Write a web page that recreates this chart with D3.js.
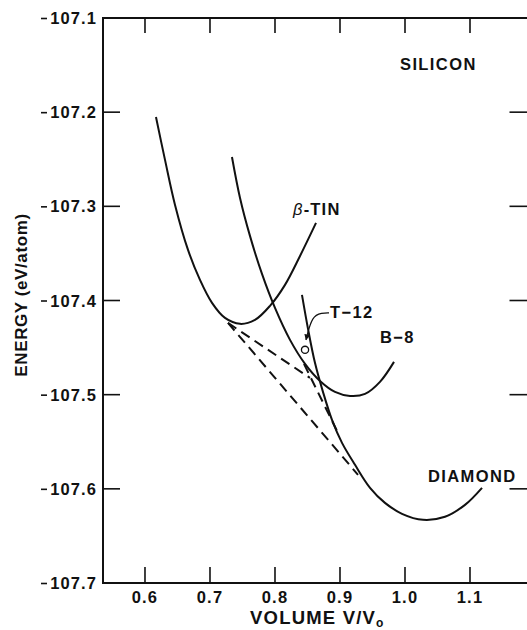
<!DOCTYPE html>
<html>
<head>
<meta charset="utf-8">
<script src="https://cdn.jsdelivr.net/npm/d3@7/dist/d3.min.js"></script>
<style>
  html, body { margin: 0; padding: 0; background: #fff; }
  svg { display: block; }
  text { font-family: "Liberation Sans", Arial, Helvetica, sans-serif; font-weight: bold; fill: #111; }
</style>
</head>
<body>
<svg id="chart" width="527" height="630"></svg>
<script>
// ---- Data ----
const xTickValues = [0.6, 0.7, 0.8, 0.9, 1.0, 1.1];
const xTickLabels = ["0.6", "0.7", "0.8", "0.9", "1.0", "1.1"];
const yTickValues = [-107.1, -107.2, -107.3, -107.4, -107.5, -107.6, -107.7];
const yTickLabels = ["107.1", "107.2", "107.3", "107.4", "107.5", "107.6", "107.7"];

// beta-tin
const tinV = [0.6169, 0.6308, 0.6462, 0.6662, 0.6846, 0.7031, 0.7231, 0.7462, 0.7692, 0.7923, 0.8154, 0.8385, 0.8631];
const tinE = [-107.2051, -107.2507, -107.2985, -107.3463, -107.3781, -107.4025, -107.4185, -107.4248, -107.4206, -107.4057, -107.3834, -107.3527, -107.3176];

// B-8
const b8V = [0.7338, 0.7462, 0.7615, 0.78, 0.80, 0.8231, 0.8462, 0.8692, 0.8923, 0.9154, 0.9385, 0.9615, 0.9831];
const b8E = [-107.2476, -107.2911, -107.3314, -107.3718, -107.4079, -107.4418, -107.4673, -107.4854, -107.4970, -107.5013, -107.4992, -107.4864, -107.4652];

// diamond
const diaV = [0.8415, 0.8508, 0.8615, 0.8738, 0.8877, 0.9031, 0.9231, 0.9462, 0.9692, 0.9954, 1.0277, 1.0615, 1.0923, 1.1185];
const diaE = [-107.3941, -107.4301, -107.4662, -107.4970, -107.5268, -107.5512, -107.5745, -107.5989, -107.6149, -107.6265, -107.6329, -107.6297, -107.6170, -107.5989];

// common tangent constructions (dashed)
const tangentTinDiamondV = [0.7277, 0.9277];
const tangentTinDiamondE = [-107.4238, -107.5851];
const tangentTinB8V = [0.7277, 0.8538];
const tangentTinB8E = [-107.4238, -107.4822];
const tangentB8DiamondV = [0.8446, 0.8969];
const tangentB8DiamondE = [-107.4673, -107.5406];

// T-12 point
const t12V = [0.8462];
const t12E = [-107.4524];
const t12LeaderV = [0.8831, 0.8723, 0.8569, 0.8477];
const t12LeaderE = [-107.4132, -107.4132, -107.4163, -107.4418];

// labels
const labelText = ["SILICON", "T\u221212", "B\u22128", "DIAMOND"];
const labelV = [0.9923, 0.8846, 0.9615, 1.0354];
const labelE = [-107.1552, -107.4185, -107.445, -107.5926];
const tinLabelV = 0.8277, tinLabelE = -107.3091;

// ---- Scales ----
const svg = d3.select("#chart");
const x = d3.scaleLinear().domain([0.5354, 1.19]).range([103, 528.5]);
const y = d3.scaleLinear().domain([-107.7, -107.1]).range([583, 18]);

const zip = (a, b) => a.map((v, i) => [v, b[i]]);
const line = d3.line().x(d => x(d[0])).y(d => y(d[1])).curve(d3.curveCatmullRom.alpha(0.5));
const straight = d3.line().x(d => x(d[0])).y(d => y(d[1]));

// ---- Frame ----
const [x0, x1] = x.range();
const [yb, yt] = y.range();
svg.append("rect").attr("x", x0).attr("y", yt).attr("width", x1 - x0).attr("height", yb - yt)
  .attr("fill", "none").attr("stroke", "#111").attr("stroke-width", 2);

// ticks
const inner = [-107.2, -107.3, -107.4, -107.5, -107.6];
svg.append("g").selectAll("line").data(inner).join("line")
  .attr("x1", x0).attr("x2", x0 + 17).attr("y1", d => y(d)).attr("y2", d => y(d))
  .attr("stroke", "#111").attr("stroke-width", 1.6);
svg.append("g").selectAll("line").data(inner).join("line")
  .attr("x1", x1 - 19).attr("x2", x1).attr("y1", d => y(d)).attr("y2", d => y(d))
  .attr("stroke", "#111").attr("stroke-width", 1.6);
svg.append("g").selectAll("line").data(xTickValues).join("line")
  .attr("x1", d => x(d)).attr("x2", d => x(d)).attr("y1", yt).attr("y2", yt + 15)
  .attr("stroke", "#111").attr("stroke-width", 1.6);
svg.append("g").selectAll("line").data(xTickValues).join("line")
  .attr("x1", d => x(d)).attr("x2", d => x(d)).attr("y1", yb).attr("y2", yb - 16)
  .attr("stroke", "#111").attr("stroke-width", 1.6);

// tick labels
svg.append("g").selectAll("text").data(xTickValues).join("text")
  .attr("x", d => x(d)).attr("y", yb + 20).attr("text-anchor", "middle")
  .attr("font-size", 16.5).attr("letter-spacing", 1.2)
  .text((d, i) => xTickLabels[i]);
const yl = svg.append("g").selectAll("g").data(yTickValues).join("g");
yl.append("text").attr("x", 97).attr("y", d => y(d) + 6).attr("text-anchor", "end")
  .attr("font-size", 16.5).attr("letter-spacing", 1.1)
  .text((d, i) => yTickLabels[i]);
yl.append("line").attr("x1", 41).attr("x2", 47).attr("y1", d => y(d) + 0.5).attr("y2", d => y(d) + 0.5)
  .attr("stroke", "#111").attr("stroke-width", 1.6);

// axis titles
const xt = svg.append("text").attr("x", 250).attr("y", 624).attr("font-size", 18.5).attr("letter-spacing", 1.2);
xt.append("tspan").text("VOLUME V/V");
xt.append("tspan").attr("dy", 3).attr("font-size", 12).text("o");
svg.append("text").attr("transform", "translate(27,295) rotate(-90)").attr("text-anchor", "middle")
  .attr("font-size", 17).attr("letter-spacing", 0.6).text("ENERGY (eV/atom)");

// ---- Curves ----
const curves = [zip(tinV, tinE), zip(b8V, b8E), zip(diaV, diaE)];
svg.append("g").selectAll("path").data(curves).join("path")
  .attr("d", line).attr("fill", "none").attr("stroke", "#111").attr("stroke-width", 2);

const tangents = [zip(tangentTinDiamondV, tangentTinDiamondE), zip(tangentTinB8V, tangentTinB8E), zip(tangentB8DiamondV, tangentB8DiamondE)];
svg.append("g").selectAll("path").data(tangents).join("path")
  .attr("d", straight).attr("fill", "none").attr("stroke", "#111").attr("stroke-width", 2)
  .attr("stroke-dasharray", "10,6");

// T-12 point and leader
svg.append("defs").append("marker").attr("id", "arrow").attr("viewBox", "0 0 10 10")
  .attr("refX", 9).attr("refY", 5).attr("markerWidth", 6).attr("markerHeight", 6)
  .attr("markerUnits", "userSpaceOnUse").attr("orient", "auto")
  .append("path").attr("d", "M0,0 L10,5 L0,10 Z").attr("fill", "#111");
svg.append("path").datum(zip(t12LeaderV, t12LeaderE))
  .attr("d", d3.line().x(d => x(d[0])).y(d => y(d[1])).curve(d3.curveBasis))
  .attr("fill", "none").attr("stroke", "#111").attr("stroke-width", 1.2).attr("marker-end", "url(#arrow)");
svg.append("g").selectAll("circle").data(zip(t12V, t12E)).join("circle")
  .attr("cx", d => x(d[0])).attr("cy", d => y(d[1])).attr("r", 3.6)
  .attr("fill", "#fff").attr("stroke", "#111").attr("stroke-width", 1.3);

// ---- Labels ----
svg.append("g").selectAll("text").data(labelText).join("text")
  .attr("x", (d, i) => x(labelV[i])).attr("y", (d, i) => y(labelE[i]))
  .attr("font-size", 16.5).attr("letter-spacing", 1.4).text(d => d);
const tl = svg.append("text").attr("x", x(tinLabelV)).attr("y", y(tinLabelE)).attr("font-size", 16.5).attr("letter-spacing", 1.2);
tl.append("tspan").attr("font-style", "italic").attr("font-weight", "normal").text("\u03b2");
tl.append("tspan").text("-TIN");
</script>
</body>
</html>
